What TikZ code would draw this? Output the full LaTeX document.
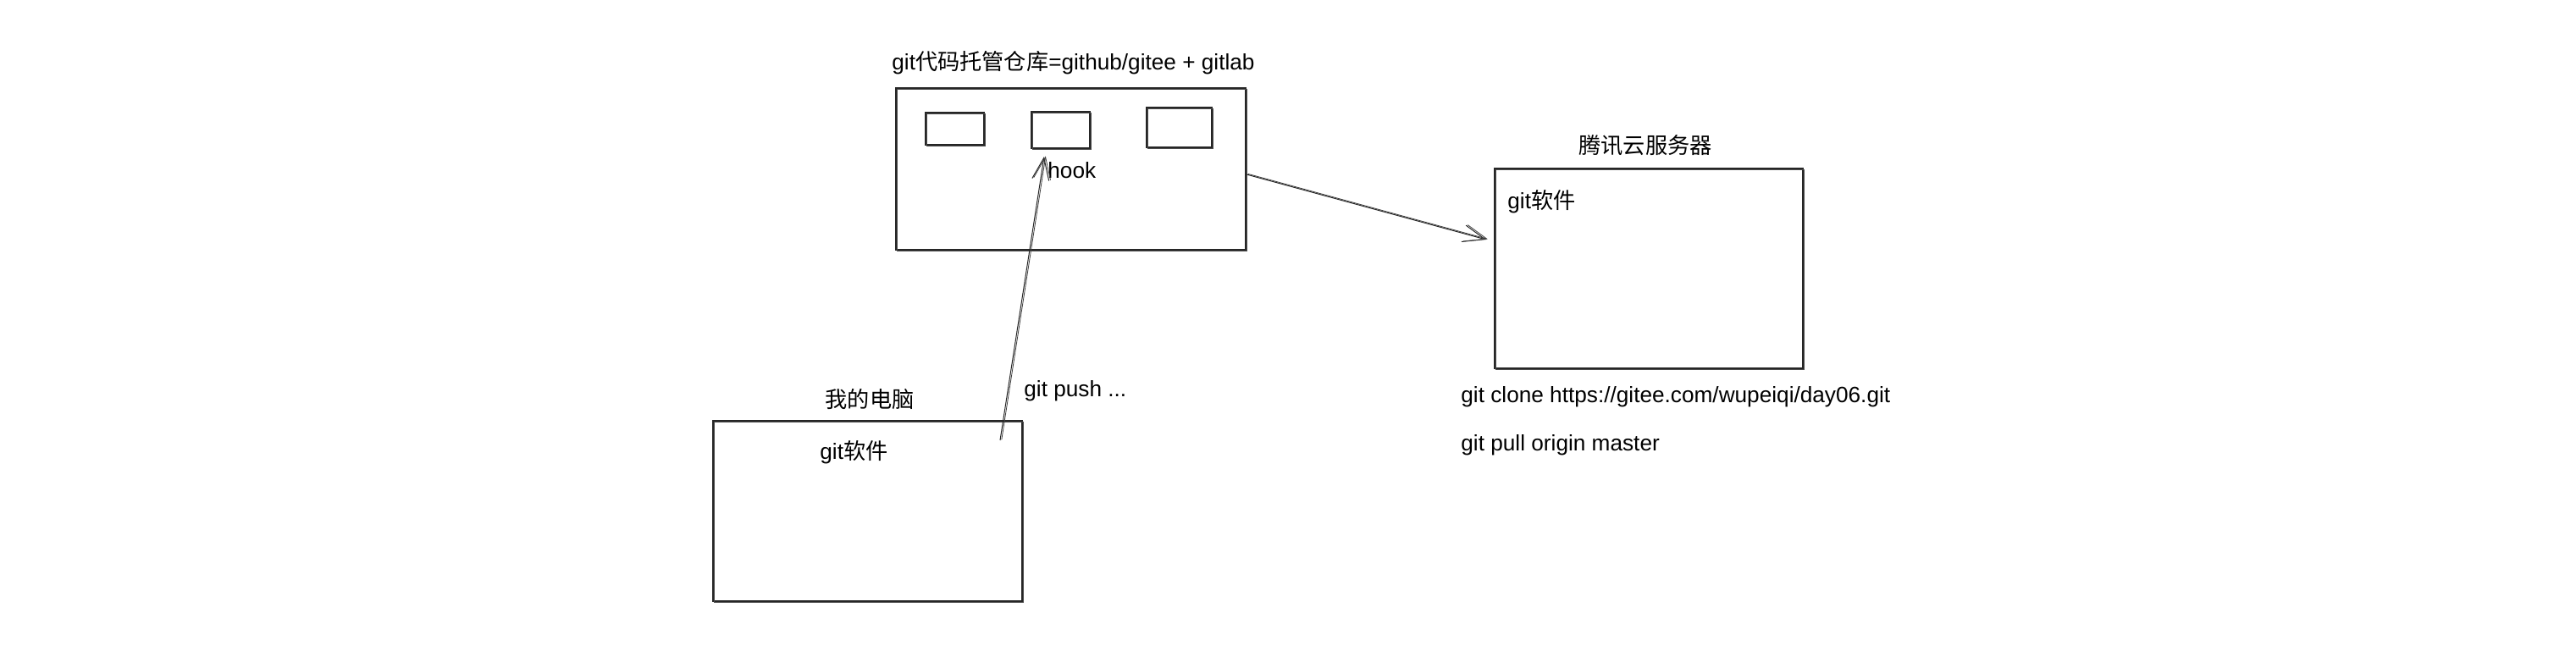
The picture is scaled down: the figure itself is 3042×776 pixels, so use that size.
\documentclass[tikz,border=0pt]{standalone}
\usepackage{fontspec}
\setmainfont{Liberation Sans}
\newfontfamily\cjk{Noto Sans CJK SC}
\usetikzlibrary{arrows.meta}
\begin{document}
\begin{tikzpicture}[x=0.5pt,y=-0.5pt,
  ink/.style={draw=black!85, line width=0.55pt},
  sketchbox/.style={ink, inner sep=0pt, rectangle,
    postaction={draw=black!70, line width=0.35pt, transform canvas={shift={(0.6pt,-0.5pt)}}}},
  sketchline/.style={ink, line width=0.5pt,
    postaction={draw=black!75, line width=0.4pt, transform canvas={shift={(0.9pt,0.3pt)}}}},
  lbl/.style={inner sep=0pt, font=\fontsize{13.1}{15.5}\selectfont, text=black},
  barb/.style={-{Straight Barb[length=13pt,width=10pt]}}
]
\useasboundingbox (0,0) rectangle (3042,776);
\fill[white] (0,0) rectangle (3042,776);

% repository
\node[sketchbox, minimum width=206.5pt, minimum height=95.5pt] (repo) at (1264.5,199.5) {};
\node[lbl, anchor=base west] (repotitle) at (1053,83) {git{\cjk 代码托管仓库}=github/gitee + gitlab};
\node[sketchbox, minimum width=34.5pt, minimum height=19pt] (r1) at (1127.5,152) {};
\node[sketchbox, minimum width=34.5pt, minimum height=21.5pt] (r2) at (1252.5,153.5) {};
\node[sketchbox, minimum width=38.5pt, minimum height=23.5pt] (r3) at (1392.5,150.5) {};
\node[lbl, anchor=base west] (hook) at (1237,210) {hook};

% my computer
\node[sketchbox, minimum width=182.5pt, minimum height=106.5pt] (pc) at (1024.5,603.5) {};
\node[lbl, anchor=base] (pctitle) at (1027,481) {\cjk 我的电脑};
\node[lbl, anchor=base west] (pcgit) at (968,542) {git{\cjk 软件}};
\node[lbl, anchor=base west] (push) at (1209,468) {git push ...};

% server
\node[sketchbox, minimum width=182pt, minimum height=118pt] (server) at (1947,317) {};
\node[lbl, anchor=base] (servertitle) at (1943,181) {\cjk 腾讯云服务器};
\node[lbl, anchor=base west] (servergit) at (1780,246) {git{\cjk 软件}};
\node[lbl, anchor=base west] (clone) at (1725,475) {git clone https://gitee.com/wupeiqi/day06.git};
\node[lbl, anchor=base west] (pull) at (1725,532) {git pull origin master};

% connectors
\coordinate (pushfrom) at (1181,520);
\coordinate (pushto) at (1233,185);
\coordinate (syncfrom) at (1472,206);
\coordinate (syncto) at (1755,283);
\draw[sketchline, barb] (pushfrom) -- (pushto);
\draw[sketchline, barb] (syncfrom) -- (syncto);
\end{tikzpicture}
\end{document}
